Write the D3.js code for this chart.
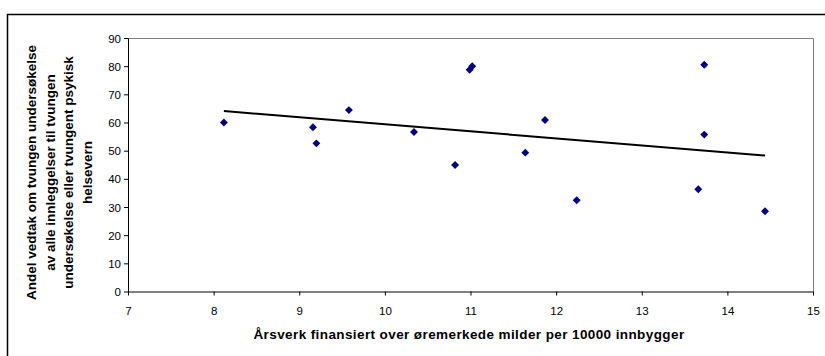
<!DOCTYPE html>
<html>
<head>
<meta charset="utf-8">
<script src="https://cdn.jsdelivr.net/npm/d3@7"></script>
<style>
  html, body { margin: 0; padding: 0; background: #fff; }
  svg { display: block; }
  text { font-family: "Liberation Sans", Arial, sans-serif; fill: #000; }
</style>
</head>
<body>
<svg id="chart" width="825" height="356"></svg>
<script>
// Årsverk per 10000 innbyggere (x) og andel vedtak (y), ett punkt per enhet
const xValues = [8.12, 9.16, 9.20, 9.58, 10.34, 10.82, 10.99, 11.02, 11.64, 11.87, 12.24, 13.66, 13.73, 13.73, 14.44];
const yValues = [60.0, 58.3, 52.6, 64.4, 56.6, 44.9, 78.7, 80.0, 49.3, 60.9, 32.4, 36.3, 80.5, 55.7, 28.5];
const xTicks = [7, 8, 9, 10, 11, 12, 13, 14, 15];
const yTicks = [0, 10, 20, 30, 40, 50, 60, 70, 80, 90];
const xTitle = "Årsverk finansiert over øremerkede milder per 10000 innbygger";
const yTitleLines = [
  "Andel vedtak om tvungen undersøkelse",
  "av alle innleggelser til tvungen",
  "undersøkelse eller tvungent psykisk",
  "helsevern"
];

const svg = d3.select("#chart");

// Outer chart frame
svg.append("rect")
  .attr("x", 7.5).attr("y", 14.5)
  .attr("width", 830).attr("height", 360)
  .attr("fill", "none").attr("stroke", "#000").attr("stroke-width", 1.5);

const plot = { left: 128, right: 813, top: 38, bottom: 291.5 };

const x = d3.scaleLinear().domain([7, 15]).range([plot.left, plot.right]);
const y = d3.scaleLinear().domain([0, 90]).range([plot.bottom, plot.top]);

// Plot area border (top and right in grey)
svg.append("path")
  .attr("d", `M${plot.left},${plot.top + 0.5}H${plot.right + 0.5}V${plot.bottom}`)
  .attr("fill", "none").attr("stroke", "#808080").attr("stroke-width", 1);

// Axes
const xAxis = svg.append("g")
  .attr("transform", `translate(0,${plot.bottom})`)
  .call(d3.axisBottom(x).tickValues(xTicks).tickFormat(d3.format("d")).tickSizeInner(4).tickSizeOuter(0));
const yAxis = svg.append("g")
  .attr("transform", `translate(${plot.left},0)`)
  .call(d3.axisLeft(y).tickValues(yTicks).tickFormat(d3.format("d")).tickSizeInner(4).tickSizeOuter(0));

[xAxis, yAxis].forEach(g => {
  g.select(".domain").attr("stroke", "#000");
  g.selectAll(".tick line").attr("stroke", "#000");
  g.selectAll(".tick text")
    .style("font-family", "'Liberation Sans', Arial, sans-serif")
    .style("font-size", "11.5px")
    .attr("fill", "#000");
});
xAxis.selectAll(".tick text").attr("dy", "0").attr("y", 23);
yAxis.selectAll(".tick text").attr("x", -7).attr("dy", "0.35em");

// Linear trend line (least squares) across the data range
const n = xValues.length;
const mx = d3.mean(xValues), my = d3.mean(yValues);
let sxy = 0, sxx = 0;
for (let i = 0; i < n; i++) {
  sxy += (xValues[i] - mx) * (yValues[i] - my);
  sxx += (xValues[i] - mx) ** 2;
}
const slope = sxy / sxx;
const intercept = my - slope * mx;
const x0 = d3.min(xValues), x1 = d3.max(xValues);
svg.append("line")
  .attr("x1", x(x0)).attr("y1", y(intercept + slope * x0))
  .attr("x2", x(x1)).attr("y2", y(intercept + slope * x1))
  .attr("stroke", "#000").attr("stroke-width", 2);

// Diamond markers
const diamond = d3.symbol().type(d3.symbolDiamond2).size(40);
svg.append("g").selectAll("path")
  .data(xValues.map((v, i) => [v, yValues[i]]))
  .join("path")
  .attr("d", diamond)
  .attr("transform", d => `translate(${x(d[0])},${y(d[1])})`)
  .attr("fill", "#000080");

// Axis titles
svg.append("text")
  .attr("x", 469).attr("y", 339)
  .attr("text-anchor", "middle")
  .style("font-size", "13.5px").style("font-weight", "bold")
  .style("letter-spacing", "0.4px")
  .text(xTitle);

const yTitle = svg.append("text")
  .attr("transform", "translate(36,172.5) rotate(-90)")
  .attr("text-anchor", "middle")
  .style("font-size", "13.5px").style("font-weight", "bold");
yTitleLines.forEach((t, i) => {
  yTitle.append("tspan").attr("x", 0).attr("y", i * 18.5).text(t);
});
</script>
</body>
</html>
